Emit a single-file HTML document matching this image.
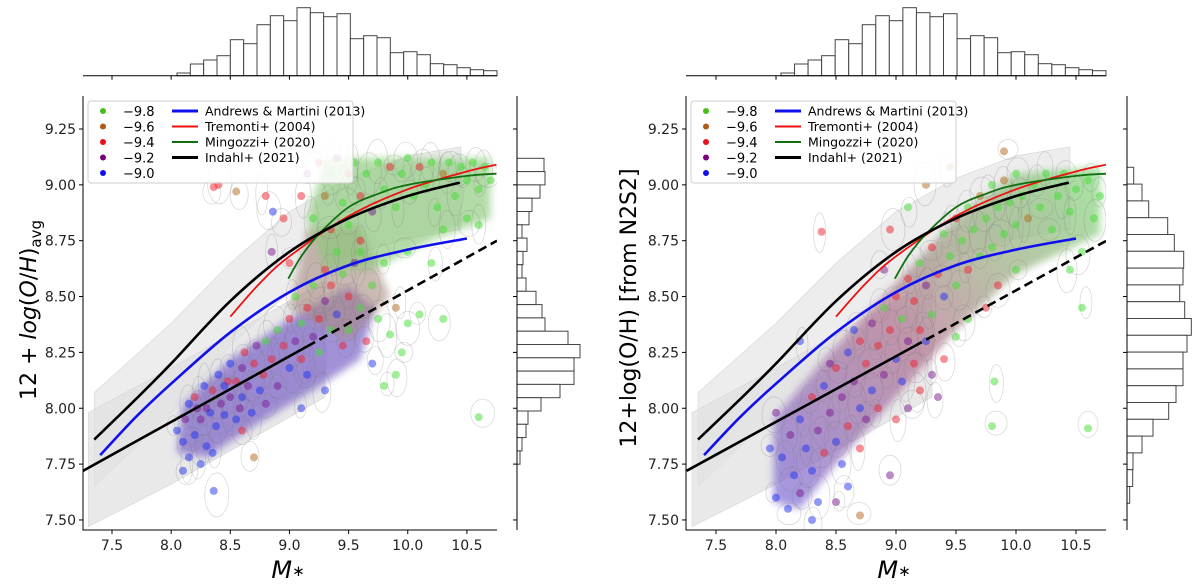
<!DOCTYPE html>
<html><head><meta charset="utf-8"><style>
html,body{margin:0;padding:0;background:#fff;}
svg{display:block;font-family:"DejaVu Sans","Liberation Sans",sans-serif;}
</style></head><body>
<svg id="c" width="1200" height="588" viewBox="0 0 1200 588">
<defs>
<filter id="blur" x="-20%" y="-20%" width="140%" height="140%"><feGaussianBlur stdDeviation="4"/></filter>
<linearGradient id="cloudGrad" x1="0" y1="1" x2="1" y2="0">
<stop offset="0" stop-color="#7a6ad8"/><stop offset="0.45" stop-color="#b0708e"/><stop offset="0.7" stop-color="#9aa880"/><stop offset="1" stop-color="#80d87a"/>
</linearGradient>
</defs>
</svg>
<script>
// ---- data ----
const xTicks=[7.5,8.0,8.5,9.0,9.5,10.0,10.5];
const xTickLabels=["7.5","8.0","8.5","9.0","9.5","10.0","10.5"];
const yTicks=[9.25,9.0,8.75,8.5,8.25,8.0,7.75,7.5];
const yTickLabels=["9.25","9.00","8.75","8.50","8.25","8.00","7.75","7.50"];
const topHistCounts=[2.7,11.7,15.7,20,36,32,51,60,55,68,63,59,62,37,40,38,23,24,21,12,11,8,6,5];
const sideHistLeft=[27,28,23,15,12,5,10,6,5,9,19,25,28,51,63,57,57,43,24,11,9,5,3];
const sideHistRight=[6.7,15,21.7,40.7,47.3,56.7,56,52.7,57.7,64.3,60,56,56,49,41.7,26,15,6,5.7,2.7];
const amMass=[7.4,7.7,8.0,8.5,9.0,9.5,10.0,10.5];
const amOH=[7.79,7.96,8.11,8.34,8.52,8.64,8.71,8.76];
const trMass=[8.5,8.75,9.0,9.5,10.0,10.5,10.75];
const trOH=[8.41,8.56,8.68,8.86,8.98,9.06,9.09];
const miMass=[8.99,9.1,9.25,9.5,9.75,10.0,10.5,10.75];
const miOH=[8.58,8.68,8.78,8.90,8.96,9.00,9.04,9.05];
const inMass=[7.35,7.7,8.0,8.5,9.0,9.5,10.0,10.44];
const inOH=[7.86,8.04,8.20,8.48,8.70,8.85,8.95,9.01];
const linMass=[7.255,9.15,10.754];
const linOH=[7.72,8.277,8.75];
const bandMass=[7.35,8.0,8.5,9.0,9.5,10.0,10.45];
const bandHi=[8.07,8.38,8.65,8.88,9.03,9.13,9.17];
const bandLo=[7.65,7.98,8.28,8.52,8.68,8.76,8.80];
const band2Mass=[7.3,8.0,8.5,9.0,9.3];
const band2Hi=[7.98,8.18,8.33,8.48,8.57];
const band2Lo=[7.47,7.66,7.81,7.96,8.05];
const cloudLowMass=[8.05,8.1,8.5,9.0,9.5,9.72,9.6,9.2,8.7,8.3];
const cloudLowOH=[7.8,8.02,8.22,8.40,8.55,8.45,8.22,8.08,7.92,7.78];
const cloudMidMass=[9.0,9.15,9.6,9.85,9.5];
const cloudMidOH=[8.45,8.8,8.82,8.5,8.3];
const cloudUpMass=[9.15,9.3,10.7,10.7,10.2,9.7,9.3];
const cloudUpOH=[8.85,9.12,9.12,8.85,8.75,8.62,8.62];
const cloudRMass=[7.98,7.98,8.4,9.0,9.5,10.0,10.7,10.7,10.0,9.5,9.0,8.5,8.2];
const cloudROH=[7.58,7.95,8.22,8.56,8.85,9.05,9.08,8.78,8.6,8.35,8.05,7.75,7.55];
const legendSSFR=["\u22129.8","\u22129.6","\u22129.4","\u22129.2","\u22129.0"];
const legendLines=["Andrews & Martini (2013)","Tremonti+ (2004)","Mingozzi+ (2020)","Indahl+ (2021)"];
const ptsLeft=[[8.05,7.90,4],[8.1,7.85,4],[8.12,7.95,3],[8.15,8.02,4],[8.2,7.88,4],[8.2,8.05,2],[8.25,7.95,3],[8.28,8.10,4],[8.3,7.83,4],[8.3,8.00,3],[8.35,8.08,2],[8.38,7.92,4],[8.4,8.15,4],[8.42,8.02,3],[8.45,7.97,4],[8.48,8.12,2],[8.5,8.05,3],[8.5,8.20,4],[8.55,7.95,4],[8.55,8.12,2],[8.6,8.18,3],[8.6,8.05,4],[8.62,8.25,2],[8.65,8.10,3],[8.68,7.98,4],[8.7,8.20,2],[8.72,8.28,3],[8.75,8.08,4],[8.78,8.15,2],[8.8,8.30,0],[8.8,8.02,3],[8.25,7.75,4],[8.1,7.72,4],[8.35,7.80,4],[8.6,7.90,2],[8.15,7.78,4],[8.7,7.78,1],[8.36,7.63,4],[8.22,8.0,3],[8.45,8.1,4],[8.33,7.98,4],[8.58,8.0,3],
[8.85,8.22,2],[8.9,8.10,3],[8.9,8.35,0],[8.95,8.28,2],[9.0,8.18,4],[9.0,8.40,2],[9.05,8.30,3],[9.05,8.50,0],[9.1,8.22,2],[9.1,8.38,0],[9.15,8.45,2],[9.15,8.15,4],[9.2,8.32,3],[9.2,8.55,0],[9.25,8.40,2],[9.25,8.25,0],[9.3,8.48,3],[9.3,8.62,2],[9.35,8.35,0],[9.35,8.55,2],[9.4,8.42,4],[9.4,8.70,0],[9.45,8.28,2],[9.45,8.60,0],[9.5,8.50,2],[9.5,8.35,0],[9.55,8.65,3],[9.6,8.45,0],[9.6,8.75,2],[9.65,8.30,2],[9.7,8.55,0],[9.7,8.20,4],[9.75,8.40,0],[9.8,8.65,0],[9.85,8.33,0],[9.9,8.45,1],[9.95,8.25,0],[10.0,8.38,0],[10.1,8.42,0],[10.3,8.40,0],[9.8,8.10,0],[9.9,8.15,0],[9.1,8.00,4],[9.3,8.08,4],[10.6,7.96,0],
[9.1,8.95,2],[9.15,9.05,3],[9.2,8.85,0],[9.25,9.10,2],[9.3,8.95,1],[9.35,9.05,0],[9.35,8.80,2],[9.4,9.12,3],[9.45,8.92,0],[9.5,9.05,2],[9.5,8.82,0],[9.55,9.10,0],[9.6,8.95,2],[9.65,9.05,0],[9.7,8.88,3],[9.75,9.10,0],[9.8,8.98,0],[9.85,9.08,2],[9.9,8.90,0],[9.95,9.05,0],[10.0,9.12,0],[10.05,8.95,0],[10.1,9.08,2],[10.15,9.00,0],[10.2,9.10,0],[10.25,8.90,0],[10.3,9.05,1],[10.35,9.10,0],[10.4,8.95,0],[10.45,9.08,0],[10.5,9.02,0],[10.55,9.10,0],[10.6,8.98,0],[10.65,9.08,0],[10.7,9.02,0],[10.3,8.80,0],[10.5,8.85,0],[10.6,8.82,0],[8.95,8.85,2],[8.8,8.95,2],[8.55,8.97,1],[8.4,9.00,2],[9.6,8.70,0],[10.0,8.70,0],[10.2,8.65,0],[9.0,8.65,2],[8.85,8.70,3],[8.36,8.99,2],[8.86,8.88,4]];
const ptsRight=[[8.0,7.60,4],[8.05,7.78,4],[8.1,7.55,4],[8.12,7.88,3],[8.15,7.70,4],[8.2,7.95,4],[8.2,7.62,3],[8.25,7.82,4],[8.3,8.05,2],[8.3,7.72,4],[8.35,7.90,3],[8.35,7.58,4],[8.4,8.10,4],[8.4,7.80,2],[8.45,7.98,3],[8.5,8.18,2],[8.5,7.85,4],[8.55,8.05,3],[8.6,8.25,4],[8.6,7.92,2],[8.65,8.12,3],[8.7,8.30,2],[8.7,8.00,4],[8.75,8.20,2],[8.8,8.38,3],[8.8,8.08,4],[8.85,8.28,2],[8.9,8.45,0],[8.9,8.15,3],[8.95,8.35,2],[9.0,8.50,2],[9.0,8.22,4],[9.05,8.40,0],[9.1,8.58,2],[9.1,8.30,3],[9.15,8.48,2],[9.2,8.65,0],[9.2,8.35,2],[9.25,8.55,3],[9.3,8.72,2],[9.3,8.42,0],[9.35,8.60,2],[9.4,8.78,0],[9.4,8.50,4],[9.45,8.68,0],[9.5,8.85,2],[9.5,8.55,0],[9.55,8.75,0],[9.6,8.90,0],[9.6,8.62,2],[9.65,8.80,0],[9.7,8.95,1],[9.7,8.68,0],[9.75,8.85,0],[9.8,9.00,0],[9.8,8.72,0],[9.85,8.90,0],[9.9,9.02,1],[9.9,8.78,0],[9.95,8.92,0],[10.0,9.05,0],[10.0,8.82,0],[10.05,8.95,0],[10.1,8.85,1],[10.15,9.00,0],[10.2,8.90,0],[10.25,9.05,0],[10.3,8.80,0],[10.35,8.95,0],[10.4,9.05,0],[10.45,8.88,0],[10.5,8.98,0],[10.55,8.70,0],[10.6,9.02,0],[10.65,8.85,0],[10.7,8.95,0],[10.45,8.62,0],[10.55,8.45,0],[10.0,8.62,0],[9.85,8.55,2],[9.75,8.45,2],[9.6,8.40,0],[9.5,8.32,0],[9.4,8.22,2],[9.3,8.15,3],[9.2,8.08,2],[9.1,8.00,3],[9.0,7.95,2],[8.95,7.70,3],[8.7,7.82,2],[8.6,7.65,4],[8.5,7.58,3],[8.3,7.50,4],[8.7,7.52,1],[9.35,8.05,3],[9.8,7.92,0],[9.82,8.12,0],[10.6,7.91,0],[8.38,8.79,2],[8.9,8.62,3],[8.95,8.80,2],[9.1,8.90,0],[9.25,9.00,1],[9.45,9.08,1],[9.9,9.15,1],[8.2,8.30,4],[7.95,7.82,4],[8.0,7.98,3],[8.45,8.2,3],[8.65,8.35,4],[8.75,7.95,3],[8.55,7.75,4],[8.85,8.0,2],[9.05,8.12,4],[9.15,8.2,2],[9.25,8.3,4]];
const ptColors=["#44dd33","#b06a20","#ee2230","#7a1a90","#2233ee"];
const legendColors=["#44c01a","#b05a14","#e8101a","#7a007f","#1010ee"];
const lineColors=["#1010ee","#ee1010","#107010","#000000"];

// ---- helpers ----
const NS="http://www.w3.org/2000/svg";
const svg=document.getElementById('c');
function mk(tag,attrs,parent){const e=document.createElementNS(NS,tag);for(const k in attrs)e.setAttribute(k,attrs[k]);(parent||svg).appendChild(e);return e;}
const Y=v=>129+(9.25-v)*223.4;
function smooth(P){
  let d='M'+P[0][0]+','+P[0][1];
  for(let i=0;i<P.length-1;i++){const p0=P[Math.max(0,i-1)],p1=P[i],p2=P[i+1],p3=P[Math.min(P.length-1,i+2)];
    d+='C'+(p1[0]+(p2[0]-p0[0])/6)+','+(p1[1]+(p2[1]-p0[1])/6)+' '+(p2[0]-(p3[0]-p1[0])/6)+','+(p2[1]-(p3[1]-p1[1])/6)+' '+p2[0]+','+p2[1];}
  return d;}

function panel(p){
  const X=v=>p.x0+(v-7.5)*p.sx;
  const g=mk('g',{});
  
  
  const L=p.left,R=p.right,T=96,B=530;
  const clip=mk('clipPath',{id:'clip'+p.id},g);mk('rect',{x:L,y:T,width:R-L,height:B-T},clip);
  const plot=mk('g',{'clip-path':'url(#clip'+p.id+')'},g);
  function poly(ms,os,attrs,name){let d='';ms.forEach((m,i)=>d+=(i?'L':'M')+X(m)+','+Y(os[i]));
    const e=mk('path',Object.assign({d:d+'Z'},attrs),plot);
    
    return e;}
  poly(bandMass.concat(bandMass.slice().reverse()),bandHi.concat(bandLo.slice().reverse()),{fill:'#e6e6e6','fill-opacity':0.7,stroke:'#d4d4d4','stroke-width':0.6},'uncertainty-band-indahl');
  poly(band2Mass.concat(band2Mass.slice().reverse()),band2Hi.concat(band2Lo.slice().reverse()),{fill:'#e0e0e0','fill-opacity':0.7,stroke:'#d4d4d4','stroke-width':0.6},'uncertainty-band-linear');
  p.clouds.forEach(c=>poly(c[0],c[1],{fill:c[2],'fill-opacity':c[3],filter:'url(#blur)'},'point-density-cloud'));
  const eg=mk('g',{fill:'none',stroke:'#777','stroke-opacity':0.3,'stroke-width':0.7},plot);
  p.pts.forEach((pt,i)=>{const el=mk('ellipse',{cx:X(pt[0])+((i*7)%9-4),cy:Y(pt[1])+((i*5)%11-5),rx:6+(i*3)%7,ry:10+(i*7)%13},eg);
    
    });
  const pg=mk('g',{},plot);
  p.pts.forEach(pt=>{const c=mk('circle',{cx:X(pt[0]),cy:Y(pt[1]),r:4,fill:ptColors[pt[2]],'fill-opacity':0.5},pg);
    
    });
  function line(ms,os,col,w,name,dash){const P=ms.map((m,i)=>[X(m),Y(os[i])]);
    const e=mk('path',{d:smooth(P),fill:'none',stroke:col,'stroke-width':w},plot);if(dash)e.setAttribute('stroke-dasharray',dash);
    
    }
  line([linMass[0],linMass[1]],[linOH[0],linOH[1]],'#000',2.6,'linear-fit-solid');
  line([linMass[1],linMass[2]],[linOH[1],linOH[2]],'#000',2.6,'linear-fit-dashed','9,5');
  line(amMass,amOH,lineColors[0],2.6,'andrews-martini-line');
  line(trMass,trOH,lineColors[1],1.8,'tremonti-line');
  line(miMass,miOH,lineColors[2],1.8,'mingozzi-line');
  line(inMass,inOH,lineColors[3],2.6,'indahl-line');
  const sp=mk('path',{d:`M${L},${T}V${B}H${R}`,fill:'none',stroke:'#000','stroke-width':1},g);
  
  
  xTicks.forEach((t,i)=>{mk('line',{x1:X(t),x2:X(t),y1:B,y2:B+4,stroke:'#000'},g);
    const tx=mk('text',{x:X(t),y:B+20,'font-size':14,'text-anchor':'middle',fill:'#222'},g);tx.textContent=xTickLabels[i];
    
    });
  yTicks.forEach((t,i)=>{mk('line',{x1:L-4,x2:L,y1:Y(t),y2:Y(t),stroke:'#000'},g);
    const tx=mk('text',{x:L-7,y:Y(t)+5,'font-size':14,'text-anchor':'end',fill:'#222'},g);tx.textContent=yTickLabels[i];
    
    });
  const xl=mk('text',{x:(L+R)/2-2,y:578,'font-size':24,'text-anchor':'middle','font-style':'italic'},g);
  xl.innerHTML='M<tspan font-size="15" font-style="normal" dy="-2">\u2217</tspan>';
  
  
  const yl=mk('text',{x:0,y:0,'font-size':22,'text-anchor':'middle',transform:`translate(${p.ylx},${p.yly}) rotate(-90)`},g);
  yl.innerHTML=p.ylabel;
  
  
  const th=mk('g',{},g);
  
  
  const hb=75.7,hw=(R-p.hstart)/topHistCounts.length;
  topHistCounts.forEach((c,i)=>{const r=mk('rect',{x:p.hstart+i*hw,y:hb-c,width:hw,height:c,fill:'#fff',stroke:'#444','stroke-width':1},th);
    
    });
  mk('line',{x1:L,x2:R,y1:hb,y2:hb,stroke:'#000'},th);
  xTicks.forEach(t=>mk('line',{x1:X(t),x2:X(t),y1:hb,y2:hb+4,stroke:'#000'},th));
  const sh=mk('g',{},g);
  
  
  p.side.forEach((w,i)=>{const r=mk('rect',{x:p.sax,y:p.sstart+i*p.sh,width:w,height:p.sh,fill:'#fff',stroke:'#444','stroke-width':1},sh);
    
    });
  mk('line',{x1:p.sax,x2:p.sax,y1:T,y2:B,stroke:'#000'},sh);
  yTicks.forEach(t=>mk('line',{x1:p.sax-4,x2:p.sax,y1:Y(t),y2:Y(t),stroke:'#000'},sh));
  const lg=mk('g',{},g);
  
  
  const lx=L+5;
  mk('rect',{x:lx,y:101,width:265,height:82,rx:3,fill:'#fff','fill-opacity':0.85,stroke:'#ccc'},lg);
  legendSSFR.forEach((s,i)=>{const yy=111+i*15.5;
    mk('circle',{cx:lx+15,cy:yy,r:3,fill:legendColors[i]},lg);
    const t=mk('text',{x:lx+35,y:yy+5,'font-size':13},lg);t.textContent=s;
    
    });
  legendLines.forEach((s,i)=>{const yy=111+i*15.5;
    mk('line',{x1:lx+84,x2:lx+110,y1:yy,y2:yy,stroke:lineColors[i],'stroke-width':i==1||i==2?2:3},lg);
    const t=mk('text',{x:lx+117,y:yy+4.5,'font-size':12.5},lg);t.textContent=s;
    
    });
}
panel({id:1,name:'left-panel',x0:112,sx:118.3,left:83,right:497,pts:ptsLeft,hstart:177,sax:517,side:sideHistLeft,sstart:158.3,sh:13.3,
  clouds:[[cloudLowMass,cloudLowOH,'#7a62c8',0.7],[cloudMidMass,cloudMidOH,'#a88a80',0.6],[cloudUpMass,cloudUpOH,'#8ac878',0.65]],
  ylx:36,yly:310,ylabel:'12 + <tspan font-style="italic">log</tspan>(<tspan font-style="italic">O</tspan>/<tspan font-style="italic">H</tspan>)<tspan font-size="15" dy="5">avg</tspan>'});
panel({id:2,name:'right-panel',x0:716,sx:120,left:686,right:1106,pts:ptsRight,hstart:781,sax:1127,side:sideHistRight,sstart:167.3,sh:16.8,
  clouds:[[cloudRMass,cloudROH,'url(#cloudGrad)',0.7]],
  ylx:636,yly:308,ylabel:'12+log(O/H) [from N2S2]'});
</script>
</body></html>
